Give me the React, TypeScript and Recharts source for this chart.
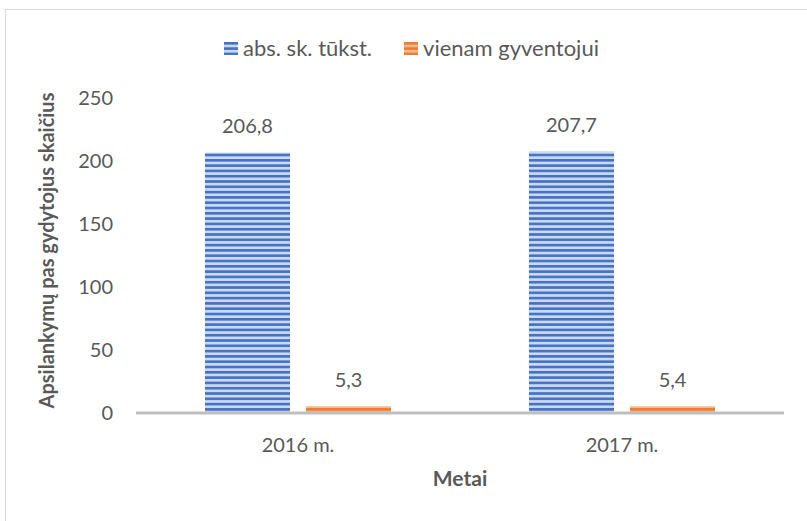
import React from 'react';
import { BarChart, Bar, XAxis, YAxis, LabelList } from 'recharts';

const categories = ['2016 m.', '2017 m.'];
const absValues = [206.8, 207.7];
const perCapitaValues = [5.3, 5.4];
const yTicks = [0, 50, 100, 150, 200, 250];
const seriesNames = ['abs. sk. tūkst.', 'vienam gyventojui'];
const yTitle = 'Apsilankymų pas gydytojus skaičius';
const xTitle = 'Metai';

const data = categories.map((c, i) => ({ cat: c, abs: absValues[i], per: perCapitaValues[i] }));

const FONT = 'Lato, "Open Sans", sans-serif';
const TXT = '#595959';

const fmt = (v: any) => String(v).replace('.', ',');

const legendItems = [
  { name: seriesNames[0], fill: 'url(#bluePat)' },
  { name: seriesNames[1], fill: 'url(#orangePat)' },
];

export default function App() {
  return (
    <div style={{ position: 'absolute', left: 0, top: 0, width: 807, height: 521, overflow: 'hidden', background: '#fff', fontFamily: FONT }}>
      <svg width="0" height="0" style={{ position: 'absolute' }}>
        <defs>
          <pattern id="bluePat" patternUnits="userSpaceOnUse" width="8" height="5.3">
            <rect x="0" y="0" width="8" height="5.3" fill="#CBD8F0" />
            <rect x="0" y="0" width="8" height="2.6" fill="#4472C4" />
          </pattern>
          <pattern id="orangePat" patternUnits="userSpaceOnUse" width="8" height="5.3">
            <rect x="0" y="0" width="8" height="5.3" fill="#F6B78C" />
            <rect x="0" y="0" width="8" height="2.6" fill="#ED7D31" />
          </pattern>
        </defs>
      </svg>
      <div style={{ position: 'absolute', left: 5, top: 9, width: 830, height: 540, border: '1.5px solid #D9D9D9', boxSizing: 'border-box' }} />
      <div style={{ position: 'absolute', left: 224, top: 35, display: 'flex', alignItems: 'center', color: TXT, fontSize: 22, lineHeight: '26px', fontFamily: FONT }}>
        {legendItems.map((it, i) => (
          <div key={i} style={{ display: 'flex', alignItems: 'center', marginRight: i === 0 ? 32 : 0 }}>
            <svg width="14" height="13" style={{ marginRight: 5 }}>
              <rect x="0" y="0" width="14" height="13" fill={it.fill} />
            </svg>
            <span>{it.name}</span>
          </div>
        ))}
      </div>
      <BarChart
        width={807}
        height={521}
        data={data}
        margin={{ top: 98, right: 23, bottom: 0, left: 0 }}
        barSize={85}
        barGap={16}
        style={{ position: 'absolute', left: 0, top: 0 }}
      >
        <XAxis
          dataKey="cat"
          height={108}
          tickLine={false}
          tickSize={0}
          tickMargin={25}
          axisLine={{ stroke: '#BFBFBF', strokeWidth: 3 }}
          tick={{ fill: TXT, fontSize: 20, fontFamily: FONT }}
          label={{ value: xTitle, position: 'insideBottom', offset: 35, fill: TXT, fontSize: 21, fontWeight: 700, fontFamily: FONT }}
        />
        <YAxis
          width={136}
          domain={[0, 250]}
          ticks={yTicks}
          interval={0}
          tickLine={false}
          axisLine={false}
          tickSize={0}
          tickMargin={23}
          tick={{ fill: TXT, fontSize: 20, fontFamily: FONT }}
          label={{
            content: (props: any) => {
              const vb = props.viewBox || {};
              const cy = (vb.y || 98) + (vb.height || 315) / 2 - 5;
              const cx = 54;
              return (
                <text
                  x={cx}
                  y={cy}
                  transform={`rotate(-90 ${cx} ${cy})`}
                  textAnchor="middle"
                  fill={TXT}
                  fontSize={20}
                  fontWeight={700}
                  fontFamily={FONT}
                >
                  {yTitle}
                </text>
              );
            },
          }}
        />
        <Bar dataKey="abs" name={seriesNames[0]} fill="url(#bluePat)" isAnimationActive={false}>
          <LabelList dataKey="abs" position="top" offset={19} formatter={fmt} fill={TXT} fontSize={20} fontFamily={FONT} />
        </Bar>
        <Bar dataKey="per" name={seriesNames[1]} fill="url(#orangePat)" isAnimationActive={false}>
          <LabelList dataKey="per" position="top" offset={19} formatter={fmt} fill={TXT} fontSize={20} fontFamily={FONT} />
        </Bar>
      </BarChart>
    </div>
  );
}
